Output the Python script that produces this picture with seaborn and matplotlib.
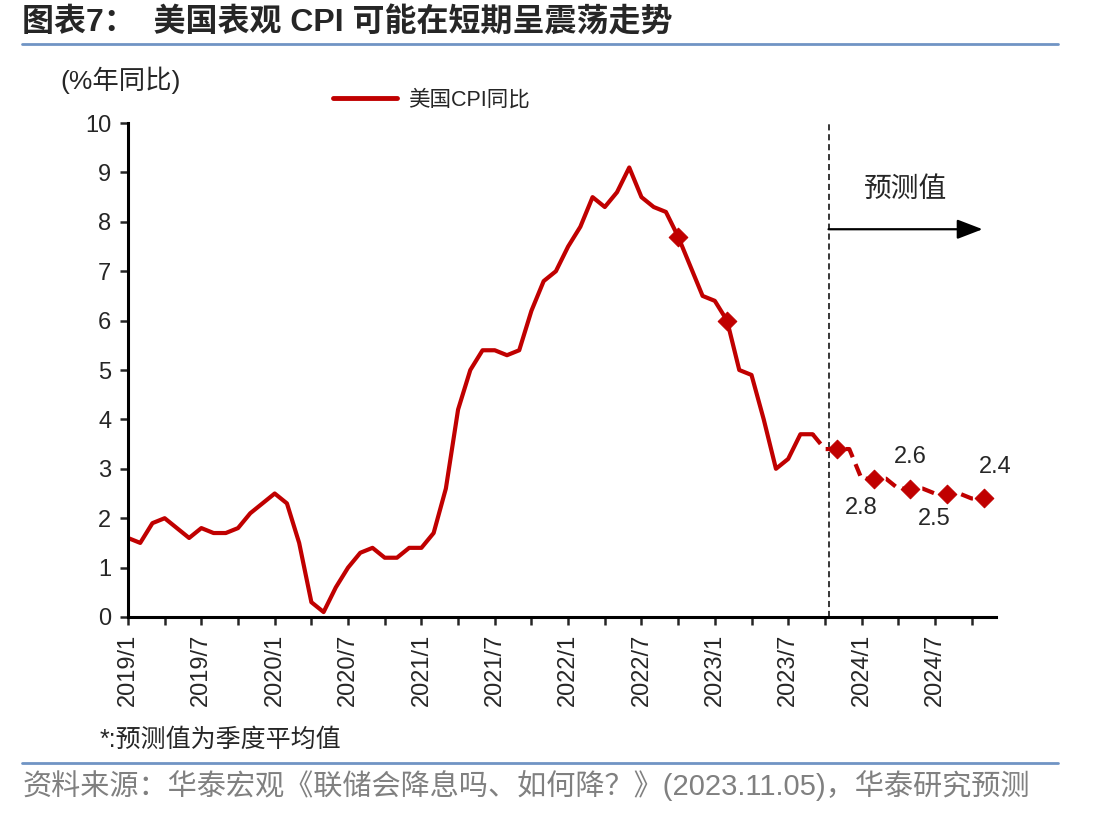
import numpy as np
import pandas as pd
import seaborn as sns
import matplotlib.pyplot as plt
from matplotlib.lines import Line2D

sns.set_theme(style="white")
plt.rcParams['font.family'] = ['Liberation Sans', 'Noto Sans CJK SC']
plt.rcParams['axes.unicode_minus'] = False

RED = '#C00000'

# monthly categories 2019/1 .. 2024/12
months = [f"{y}/{m}" for y in range(2019, 2025) for m in range(1, 13)]

# actual US CPI yoy, 2019/1 .. 2023/9
cpi_actual = [1.6, 1.5, 1.9, 2.0, 1.8, 1.6, 1.8, 1.7, 1.7, 1.8, 2.1, 2.3,
              2.5, 2.3, 1.5, 0.3, 0.1, 0.6, 1.0, 1.3, 1.4, 1.2, 1.2, 1.4,
              1.4, 1.7, 2.6, 4.2, 5.0, 5.4, 5.4, 5.3, 5.4, 6.2, 6.8, 7.0,
              7.5, 7.9, 8.5, 8.3, 8.6, 9.1, 8.5, 8.3, 8.2, 7.7, 7.1, 6.5,
              6.4, 6.0, 5.0, 4.9, 4.0, 3.0, 3.2, 3.7, 3.7]

# forecast (quarterly averages), 2023/9 .. 2024/11
fc_months = ["2023/9", "2023/10", "2023/11", "2023/12", "2024/1", "2024/2", "2024/3",
             "2024/4", "2024/5", "2024/6", "2024/7", "2024/8", "2024/9", "2024/10", "2024/11"]
cpi_forecast = [3.7, 3.4, 3.4, 3.4, 2.8, 2.8, 2.8, 2.6, 2.6, 2.6, 2.5, 2.5, 2.5, 2.4, 2.4]

# diamond markers
mk_months = ["2022/10", "2023/2", "2023/11", "2024/2", "2024/5", "2024/8", "2024/11"]
mk_values = [7.7, 6.0, 3.4, 2.8, 2.6, 2.5, 2.4]

# value labels on forecast points: (month, value, offset in points)
lab_months = ["2024/2", "2024/5", "2024/8", "2024/11"]
lab_values = [2.8, 2.6, 2.5, 2.4]
lab_offsets = [(-9, -21), (0, 23), (-9, -18), (8, 23)]

idx = {m: i for i, m in enumerate(months)}
df_act = pd.DataFrame({'x': [idx[m] for m in months[:len(cpi_actual)]], 'cpi': cpi_actual})
df_fc = pd.DataFrame({'x': [idx[m] for m in fc_months], 'cpi': cpi_forecast})
df_mk = pd.DataFrame({'x': [idx[m] for m in mk_months], 'cpi': mk_values})

fig = plt.figure(figsize=(11.12, 8.17), dpi=100)
ax = fig.add_axes([0.1151, 0.2448, 0.7806, 0.6046])

sns.lineplot(data=df_act, x='x', y='cpi', ax=ax, color=RED, linewidth=3, legend=False)
sns.lineplot(data=df_fc, x='x', y='cpi', ax=ax, color=RED, linewidth=3,
             linestyle=(0, (3, 1.8)), legend=False)
sns.scatterplot(data=df_mk, x='x', y='cpi', ax=ax, color=RED, marker='D', s=90,
                edgecolor=RED, zorder=5, legend=False)

for m, v, off in zip(lab_months, lab_values, lab_offsets):
    ax.annotate(f"{v}", (idx[m], v), xytext=off, textcoords='offset points',
                ha='center', va='center', fontsize=17)

# forecast divider and arrow
split = idx["2023/10"] + 0.3
ax.axvline(split, color='black', linestyle=(0, (4, 2.5)), linewidth=1.1, zorder=1)
ax.annotate('', xy=(idx["2024/11"] - 0.1, 7.85), xytext=(split, 7.85),
            arrowprops=dict(arrowstyle='-|>,head_length=1.3,head_width=0.5',
                            color='black', lw=1.6, shrinkA=0, shrinkB=0))
ax.text(idx["2024/5"] - 0.4, 8.65, '预测值', ha='center', va='center', fontsize=20)

ax.set_xlim(0, len(months) - 1)
ax.set_ylim(0, 10)
ax.set_yticks(range(0, 11))
ax.set_xticks(range(0, len(months), 3), minor=False)
ax.set_xticklabels([m if i % 6 == 0 else '' for i, m in enumerate(months) if i % 3 == 0],
                   rotation=90, fontsize=17)
ax.tick_params(axis='y', labelsize=17, length=6, width=1.8, direction='out', left=True, pad=6)
ax.tick_params(axis='x', length=6, width=1.8, direction='out', bottom=True, pad=6)
ax.set_xlabel('')
ax.set_ylabel('')
for s in ['top', 'right']:
    ax.spines[s].set_visible(False)
for s in ['left', 'bottom']:
    ax.spines[s].set_color('black')
    ax.spines[s].set_linewidth(2.2)

handle = Line2D([], [], color=RED, linewidth=3.5)
fig.legend([handle], ['美国CPI同比'], loc='center', bbox_to_anchor=(0.388, 0.877),
           frameon=False, fontsize=15.5, handlelength=3.0, handletextpad=0.5)

fig.text(0.054, 0.902, '(%年同比)', fontsize=19, ha='left', va='center')

# title and notes
fig.text(0.02, 0.972, '图表7：  美国表观 CPI 可能在短期呈震荡走势', fontsize=23,
         fontweight='bold', ha='left', va='center')
fig.add_artist(Line2D([0.02, 0.951], [0.946, 0.946], color='#7094C4', linewidth=2))
fig.text(0.09, 0.094, '*:预测值为季度平均值', fontsize=18, ha='left', va='center')
fig.add_artist(Line2D([0.02, 0.951], [0.066, 0.066], color='#7094C4', linewidth=2))
fig.text(0.02, 0.038, '资料来源：华泰宏观《联储会降息吗、如何降？》(2023.11.05)，华泰研究预测',
         fontsize=21, color='#808080', ha='left', va='center')

fig.savefig('out.png', dpi=100)
